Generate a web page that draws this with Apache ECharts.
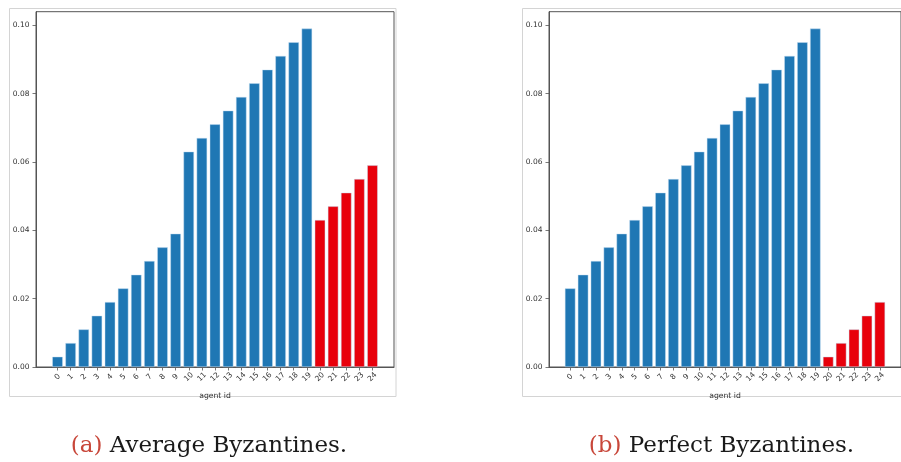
<!DOCTYPE html>
<html>
<head>
<meta charset="utf-8">
<title>Byzantine agent weights</title>
<script src="https://cdn.jsdelivr.net/npm/echarts@6/dist/echarts.min.js"></script>
<style>
  html, body { margin: 0; padding: 0; background: #ffffff; }
  #chart { width: 901px; height: 462px; }
</style>
</head>
<body>
<div id="chart"></div>
<script>
// Agent ids on the x axis
const agentIds = ['0','1','2','3','4','5','6','7','8','9','10','11','12',
  '13','14','15','16','17','18','19','20','21','22','23','24'];
// Agents 20..24 are the Byzantine ones (drawn in red)
const byzantineFrom = 20;

// Panel (a): average Byzantines
const averageWeights = [
  0.003, 0.007, 0.011, 0.015, 0.019, 0.023, 0.027, 0.031, 0.035, 0.039,
  0.063, 0.067, 0.071, 0.075, 0.079, 0.083, 0.087, 0.091, 0.095, 0.099,
  0.043, 0.047, 0.051, 0.055, 0.059
];
// Panel (b): perfect Byzantines
const perfectWeights = [
  0.023, 0.027, 0.031, 0.035, 0.039, 0.043, 0.047, 0.051, 0.055, 0.059,
  0.063, 0.067, 0.071, 0.075, 0.079, 0.083, 0.087, 0.091, 0.095, 0.099,
  0.003, 0.007, 0.011, 0.015, 0.019
];
const yTicks = [0, 0.02, 0.04, 0.06, 0.08, 0.10];
const captions = [
  { tag: '(a)', text: ' Average Byzantines.' },
  { tag: '(b)', text: ' Perfect Byzantines.' }
];
const xLabel = 'agent id';

const BLUE = '#1f77b4';
const RED = '#e8000b';
const SPINE = '#555555';
const TICKFONT = 'DejaVu Sans';

const chart = echarts.init(document.getElementById('chart'), null, { renderer: 'canvas' });

const panelLefts = [36, 549];
const gridTop = 11.7, gridW = 358, gridH = 355.3;
const xMin = -1.64, xMax = 25.64;
const yMax = 0.10395;
const tickIdx = agentIds.map((_, i) => i);

function barData(values) {
  return values.map((v, i) => ({
    value: [i, v],
    itemStyle: { color: i >= byzantineFrom ? RED : BLUE }
  }));
}

const grids = panelLefts.map(l => ({
  left: l, top: gridTop, width: gridW, height: gridH,
  show: true, borderColor: SPINE, borderWidth: 1, backgroundColor: 'transparent',
  containLabel: false
}));

const xAxes = [0, 1].map(g => ({
  type: 'value', gridIndex: g, min: xMin, max: xMax,
  name: xLabel, nameLocation: 'middle', nameGap: 25.5,
  nameTextStyle: { fontFamily: TICKFONT, fontSize: 7.7, color: '#333' },
  axisLine: { show: true, onZero: false, lineStyle: { color: SPINE, width: 1 } },
  axisTick: { show: true, inside: false, length: 3.5, customValues: tickIdx,
              lineStyle: { color: SPINE, width: 0.8 } },
  axisLabel: {
    show: true, customValues: tickIdx, rotate: 45, margin: 10,
    align: 'center', verticalAlign: 'middle',
    fontFamily: TICKFONT, fontSize: 7.5, color: '#333',
    formatter: v => agentIds[Math.round(v)]
  },
  splitLine: { show: false }
}));

const yAxes = [0, 1].map(g => ({
  type: 'value', gridIndex: g, min: 0, max: yMax,
  axisLine: { show: true, onZero: false, lineStyle: { color: SPINE, width: 1 } },
  axisTick: { show: true, inside: false, length: 3.5, customValues: yTicks,
              lineStyle: { color: SPINE, width: 0.8 } },
  axisLabel: {
    show: true, customValues: yTicks, margin: 6.5,
    fontFamily: TICKFONT, fontSize: 7.5, color: '#333',
    formatter: v => v.toFixed(2)
  },
  splitLine: { show: false }
}));

const series = [averageWeights, perfectWeights].map((vals, g) => ({
  type: 'bar', xAxisIndex: g, yAxisIndex: g,
  data: barData(vals), barWidth: 10.5, silent: true,
  itemStyle: { borderColor: 'rgba(200,225,245,0.9)', borderWidth: 0.5 }
}));

// Light frame around each panel figure
const frames = [
  { type: 'rect', shape: { x: 9.5, y: 8.5, width: 386.5, height: 388 },
    style: { fill: 'none', stroke: '#d4d4d4', lineWidth: 1 }, silent: true, z: -1 },
  { type: 'rect', shape: { x: 522.5, y: 8.5, width: 400, height: 388 },
    style: { fill: 'none', stroke: '#d4d4d4', lineWidth: 1 }, silent: true, z: -1 }
];

const titles = captions.map((c, i) => ({
  text: '{tag|' + c.tag + '}{body|' + c.text + '}',
  left: i === 0 ? 204 : 716.5, top: 430, textAlign: 'center',
  textStyle: {
    fontWeight: 'normal',
    rich: {
      tag: { fontFamily: 'DejaVu Serif', fontSize: 23, fontWeight: 'normal', color: '#c8473a' },
      body: { fontFamily: 'DejaVu Serif', fontSize: 23, fontWeight: 'normal', color: '#1a1a1a' }
    }
  }
}));

chart.setOption({
  animation: false,
  backgroundColor: '#ffffff',
  title: titles,
  grid: grids,
  xAxis: xAxes,
  yAxis: yAxes,
  series: series,
  graphic: frames
});
</script>
</body>
</html>
